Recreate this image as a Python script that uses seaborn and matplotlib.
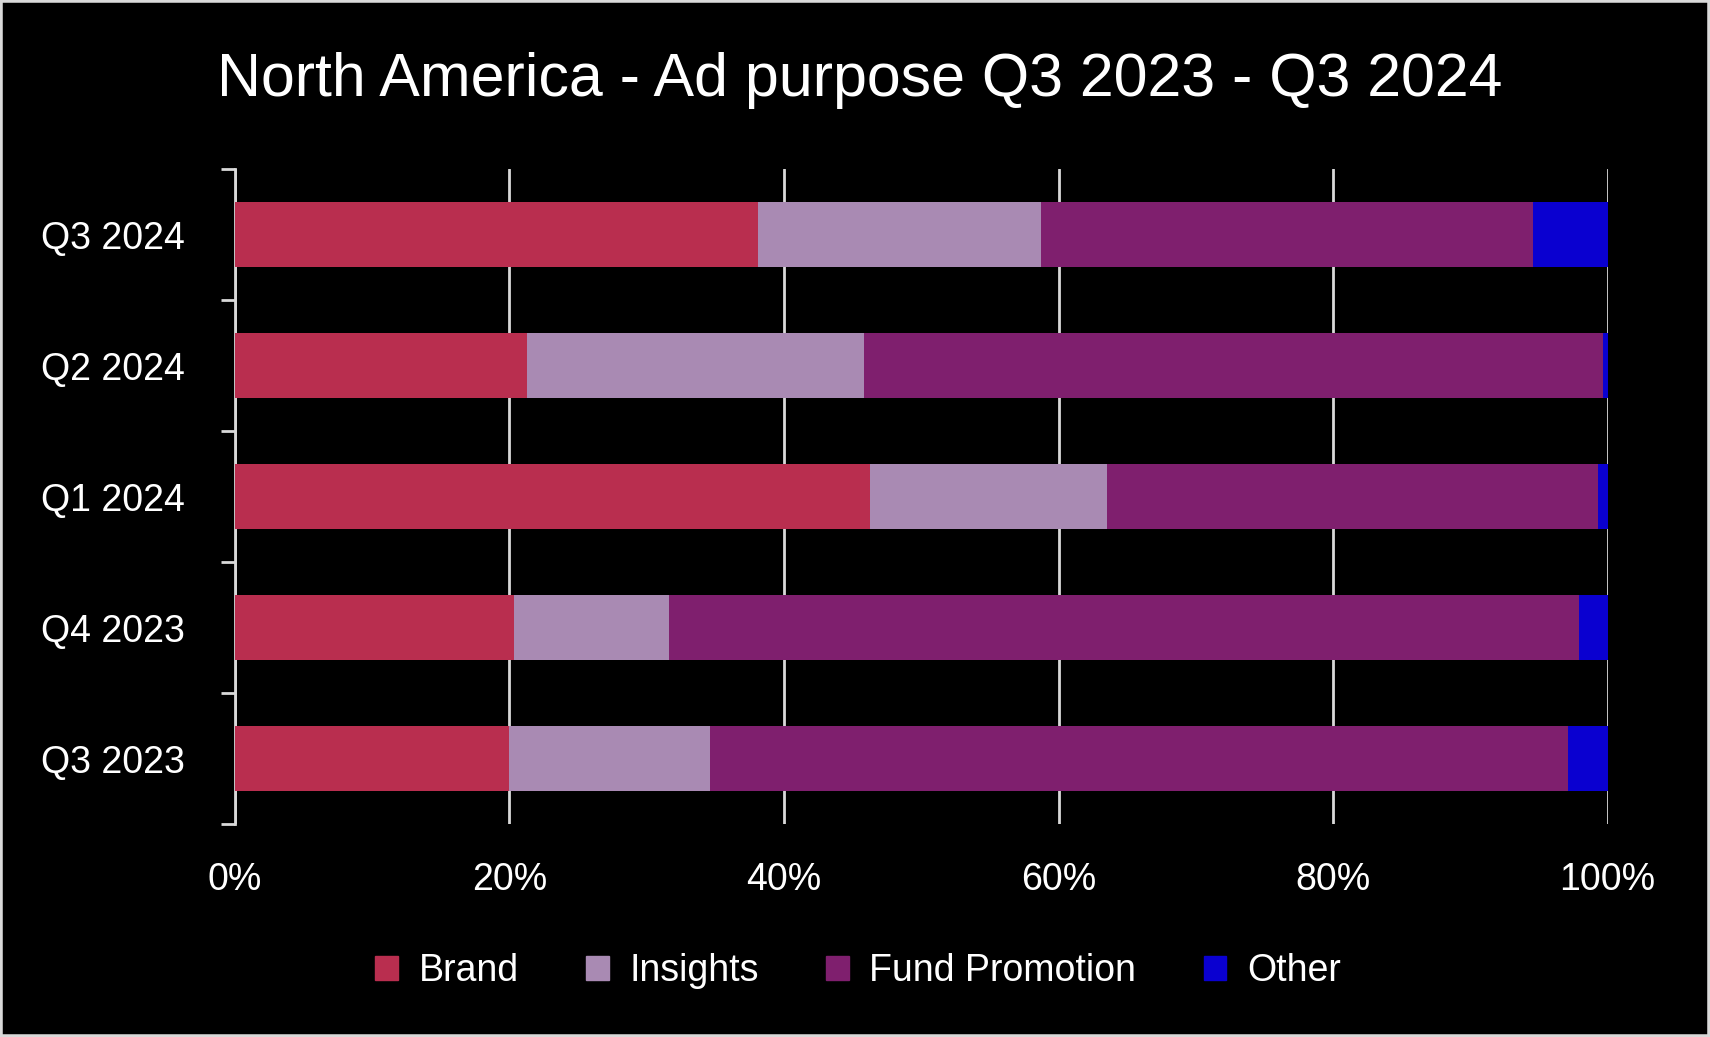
import numpy as np
import pandas as pd
import matplotlib
matplotlib.use("Agg")
import matplotlib.pyplot as plt
import matplotlib.patches as mpatches
from matplotlib.ticker import FixedLocator, PercentFormatter
import seaborn as sns

# data (share of ads, %), top row of the chart first
QUARTERS = ["Q3 2024", "Q2 2024", "Q1 2024", "Q4 2023", "Q3 2023"]
BRAND = [38.1, 21.3, 46.3, 20.3, 20.0]
INSIGHTS = [20.6, 24.5, 17.2, 11.3, 14.6]
FUND_PROMOTION = [35.9, 53.9, 35.8, 66.3, 62.5]
OTHER = [5.4, 0.3, 0.7, 2.1, 2.9]

SERIES = ["Brand", "Insights", "Fund Promotion", "Other"]
COLORS = ["#B92E4F", "#A98AB3", "#7F1F6E", "#0A00D0"]

BG = "#000000"
TEXT = "#FFFFFF"
GRID = "#D9D9D9"
FONT = "Liberation Sans"

sns.set_theme(style="white")
plt.rcParams["font.family"] = [FONT, "DejaVu Sans"]

df = pd.DataFrame({
    "quarter": QUARTERS,
    "Brand": BRAND,
    "Insights": INSIGHTS,
    "Fund Promotion": FUND_PROMOTION,
    "Other": OTHER,
})
# cumulative share at the right edge of each segment
cum = df[SERIES].cumsum(axis=1) / 100.0
cum["quarter"] = df["quarter"]

fig = plt.figure(figsize=(17.1, 10.37), dpi=100, facecolor=BG)
ax = fig.add_axes([0.1374, 0.2054, 0.8027, 0.6316])
ax.set_facecolor(BG)

# stacked bars: draw the widest cumulative first, then overlay the rest
for name, color in reversed(list(zip(SERIES, COLORS))):
    sns.barplot(data=cum, x=name, y="quarter", order=QUARTERS, color=color,
                width=0.5, saturation=1, linewidth=0, ax=ax, zorder=3)

ax.set_xlim(0, 1)
ax.set_ylim(4.5, -0.5)
ax.set_xlabel("")
ax.set_ylabel("")

ax.set_xticks([0, 0.2, 0.4, 0.6, 0.8, 1.0])
ax.xaxis.set_major_formatter(PercentFormatter(1.0, decimals=0))
ax.grid(True, axis="x", color=GRID, linewidth=2, zorder=0)
ax.set_axisbelow(True)
ax.tick_params(axis="x", length=0, pad=27, labelsize=27, labelcolor=TEXT)

# short outward ticks on the category boundaries
ax.yaxis.set_minor_locator(FixedLocator(np.arange(-0.5, len(QUARTERS), 1.0)))
ax.tick_params(axis="y", which="major", left=True, length=0, pad=36,
               labelsize=27, labelcolor=TEXT)
ax.tick_params(axis="y", which="minor", left=True, length=10, width=2,
               color=GRID, direction="out")

for side in ["top", "right", "bottom"]:
    ax.spines[side].set_visible(False)
ax.spines["left"].set_color(GRID)
ax.spines["left"].set_linewidth(2)

fig.text(0.503, 0.9077, "North America - Ad purpose Q3 2023 - Q3 2024",
         ha="center", va="baseline", color=TEXT, fontsize=43.8)

handles = [mpatches.Patch(color=c, label=s) for s, c in zip(SERIES, COLORS)]
fig.legend(handles=handles, loc="center", bbox_to_anchor=(0.5018, 0.0636),
           ncol=4, frameon=False, fontsize=27, labelcolor=TEXT,
           handlelength=0.6, handleheight=0.6, handletextpad=0.55,
           columnspacing=1.8)

fig.patches.append(mpatches.Rectangle((0, 0), 1, 1, transform=fig.transFigure,
                                      fill=False, edgecolor=GRID, linewidth=4))

fig.savefig("out.png", dpi=100, facecolor=BG)
